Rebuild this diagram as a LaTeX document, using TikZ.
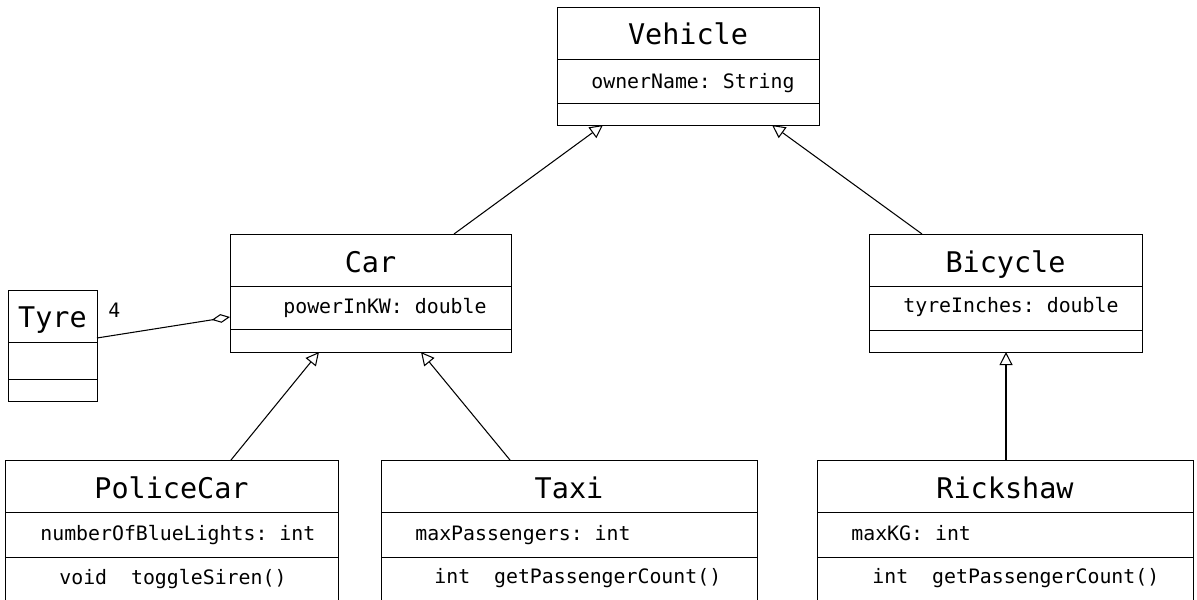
\documentclass[tikz,border=0pt]{standalone}
\usepackage{fontspec}
\setmonofont{DejaVu Sans Mono}
\usetikzlibrary{arrows.meta}

\tikzset{
  classbox/.style 2 args={draw, rectangle, anchor=north west, inner sep=0pt, outer sep=0pt,
    line width=0.55pt, minimum width=#1*0.2mm, minimum height=#2*0.2mm},
  classname/.style={anchor=base, inner sep=0pt, font=\ttfamily\fontsize{16.2}{19}\selectfont},
  member/.style={anchor=base west, inner sep=0pt, font=\ttfamily\fontsize{11.3}{14}\selectfont},
  inherit/.style={line width=0.6pt, -{Triangle[open, length=7.5pt, width=7.5pt]}},
  aggregate/.style={line width=0.6pt, -{Diamond[open, length=10.5pt, width=5pt]}},
}

\begin{document}
\begin{tikzpicture}[x=0.2mm, y=-0.2mm]
  \useasboundingbox (0,0) rectangle (1197,600);
  \clip (0,0) rectangle (1197,600);

  % class boxes
  \node[classbox={262}{118}] (vehicle) at (557,7) {};
  \node[classbox={281}{118}] (car) at (230,234) {};
  \node[classbox={273}{118}] (bicycle) at (869,234) {};
  \node[classbox={89}{111}] (tyre) at (8,290) {};
  \node[classbox={333}{150}] (policecar) at (5,460) {};
  \node[classbox={376}{150}] (taxi) at (381,460) {};
  \node[classbox={376}{150}] (rickshaw) at (817,460) {};

  % compartment lines
  \foreach \cls/\a/\b in {vehicle/52/96, car/52/95, bicycle/52/96, tyre/52/89,
                          policecar/52/97, taxi/52/97, rickshaw/52/97} {
    \draw[line width=0.55pt] (\cls.north west) ++(0,\a) coordinate (d1) -- (d1 -| \cls.east);
    \draw[line width=0.55pt] (\cls.north west) ++(0,\b) coordinate (d2) -- (d2 -| \cls.east);
  }

  % names
  \node[classname] (vehicle-name) at (vehicle.north |- 0,45) {Vehicle};
  \node[classname] (car-name) at (car.north |- 0,272) {Car};
  \node[classname] (bicycle-name) at (bicycle.north |- 0,272) {Bicycle};
  \node[classname] (tyre-name) at (tyre.north |- 0,327) {Tyre};
  \node[classname] (policecar-name) at (policecar.north |- 0,498) {PoliceCar};
  \node[classname] (taxi-name) at (taxi.north |- 0,498) {Taxi};
  \node[classname] (rickshaw-name) at (rickshaw.north |- 0,498) {Rickshaw};

  % attributes and methods
  \node[member] (vehicle-attr) at (591,89) {ownerName: String};
  \node[member] (car-attr) at (283,313) {powerInKW: double};
  \node[member] (bicycle-attr) at (903,312) {tyreInches: double};
  \node[member] (policecar-attr) at (40,540) {numberOfBlueLights: int};
  \node[member] (policecar-op) at (59,584) {void~~toggleSiren()};
  \node[member] (taxi-attr) at (415,540) {maxPassengers: int};
  \node[member] (taxi-op) at (434,583) {int~~getPassengerCount()};
  \node[member] (rickshaw-attr) at (851,540) {maxKG: int};
  \node[member] (rickshaw-op) at (872,583) {int~~getPassengerCount()};

  % generalisations
  \draw[inherit] (car.north -| 454,0) -- (vehicle.south -| 603,0);
  \draw[inherit] (bicycle.north -| 922,0) -- (vehicle.south -| 772,0);
  \draw[inherit] (policecar.north -| 231,0) -- (car.south -| 319,0);
  \draw[inherit] (taxi.north -| 510,0) -- (car.south -| 421,0);
  \draw[inherit] (rickshaw.north -| 1006,0) -- (bicycle.south -| 1006,0);

  % tyres belong to the car
  \draw[aggregate] (tyre.east |- 0,338) -- (car.west |- 0,317);
  \node[member] (tyre-mult) at (108,317) {4};
\end{tikzpicture}
\end{document}
